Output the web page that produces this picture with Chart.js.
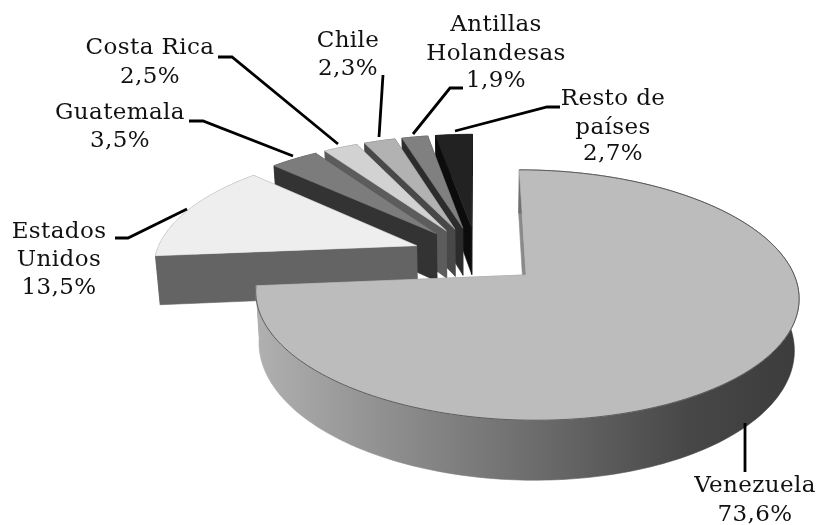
<!DOCTYPE html>
<html><head><meta charset="utf-8">
<script src="https://cdn.jsdelivr.net/npm/chart.js@4"></script>
<style>html,body{margin:0;padding:0;background:#fff}canvas{display:block}</style>
</head><body><canvas id="c" width="821" height="525"></canvas>
<script>
const categories = ['Venezuela','Estados Unidos','Guatemala','Costa Rica','Chile','Antillas Holandesas','Resto de países'];
const shares = [73.6,13.5,3.5,2.5,2.3,1.9,2.7];
const percentLabels = ['73,6%','13,5%','3,5%','2,5%','2,3%','1,9%','2,7%'];
const topColors = ['#bcbcbc','#eeeeee','#7c7c7c','#d2d2d2','#b2b2b2','#808080','#222222'];
const wallColors = ['#8a8a8a','#646464','#333333','#5c5c5c','#484848','#2c2c2c','#0c0c0c'];

const VIEW = {cx:477, cy:255, tilt:0.443, k:0.0006, R:261, depth:49, taper:0.0003};
const labelLayout = [
  {lines:['Venezuela',percentLabels[0]], x:755, y:[486,515], lead:[[745,423],[745,472]]},
  {lines:['Estados','Unidos',percentLabels[1]], x:59, y:[232,260,288], lead:[[187,209],[128,238],[115,238]]},
  {lines:['Guatemala',percentLabels[2]], x:120, y:[113,141], lead:[[293,156],[203,121],[189,121]]},
  {lines:['Costa Rica',percentLabels[3]], x:150, y:[48,77], lead:[[338,144],[232,57],[218,57]]},
  {lines:['Chile',percentLabels[4]], x:348, y:[41,69], lead:[[379,137],[383,75]]},
  {lines:['Antillas','Holandesas',percentLabels[5]], x:496, y:[25,54,81], lead:[[413,134],[450,88],[463,88]]},
  {lines:['Resto de','países',percentLabels[6]], x:613, y:[99,128,154], lead:[[455,131],[547,107],[560,107]]}
];

function proj(u,v,h){
  const s = 1/(1-VIEW.k*v);
  return [VIEW.cx+u*s*(1-VIEW.taper*h), VIEW.cy+VIEW.tilt*v*s+h*s];
}
function arcPts(a0,a1,h,ou,ov){
  const n = Math.max(6,Math.ceil(Math.abs(a1-a0)/0.02)), pts=[];
  for(let i=0;i<=n;i++){
    const a=a0+(a1-a0)*i/n;
    pts.push(proj(ou+Math.cos(a)*VIEW.R,ov+Math.sin(a)*VIEW.R,h));
  }
  return pts;
}
function fillPoly(ctx,pts,fill){
  ctx.beginPath();
  pts.forEach((p,i)=>i?ctx.lineTo(p[0],p[1]):ctx.moveTo(p[0],p[1]));
  ctx.closePath();
  ctx.fillStyle=fill; ctx.fill();
  ctx.strokeStyle=fill; ctx.lineWidth=0.6; ctx.stroke();
}
const pie3d = {
  id:'pie3d',
  beforeDatasetsDraw(chart){
    const ctx=chart.ctx, arcs=chart.getDatasetMeta(0).data;
    const order=[6,5,4,3,2,1,0];
    ctx.save();
    order.forEach(i=>{
      const el=arcs[i], scale=VIEW.R/el.outerRadius;
      const mid=(el.startAngle+el.endAngle)/2, e=el.options.offset*scale;
      const ou=Math.cos(mid)*e, ov=Math.sin(mid)*e;
      const a0=el.startAngle, a1=el.endAngle, D=VIEW.depth;
      const apexT=proj(ou,ov,0), apexB=proj(ou,ov,D);
      const top=arcPts(a0,a1,0,ou,ov), bot=arcPts(a0,a1,D,ou,ov);
      fillPoly(ctx,[apexT,top[0],bot[0],apexB],wallColors[i]);
      fillPoly(ctx,[apexT,top[top.length-1],bot[bot.length-1],apexB],wallColors[i]);
      let wall=wallColors[i];
      if(i===0){
        wall=ctx.createLinearGradient(257,0,797,0);
        wall.addColorStop(0,'#b0b0b0');
        wall.addColorStop(0.25,'#8e8e8e');
        wall.addColorStop(0.5,'#6e6e6e');
        wall.addColorStop(0.8,'#474747');
        wall.addColorStop(1,'#3c3c3c');
      }
      fillPoly(ctx,top.concat(bot.slice().reverse()),wall);
      fillPoly(ctx,[apexT].concat(top),el.options.backgroundColor);
      if(i===0){
        ctx.beginPath();
        top.forEach((p,j)=>j?ctx.lineTo(p[0],p[1]):ctx.moveTo(p[0],p[1]));
        ctx.strokeStyle='#444'; ctx.lineWidth=0.8; ctx.stroke();
      }
    });
    ctx.strokeStyle='#000'; ctx.lineWidth=2.8; ctx.lineJoin='miter';
    labelLayout.forEach(l=>{
      ctx.beginPath();
      l.lead.forEach((p,j)=>j?ctx.lineTo(p[0],p[1]):ctx.moveTo(p[0],p[1]));
      ctx.stroke();
    });
    ctx.fillStyle='#111'; ctx.textAlign='center'; ctx.textBaseline='middle';
    ctx.font='23px "DejaVu Serif"';
    ctx.letterSpacing='0.4px';
    labelLayout.forEach(l=>l.lines.forEach((t,j)=>ctx.fillText(t,l.x,l.y[j])));
    ctx.restore();
    return false;
  }
};
new Chart(document.getElementById('c'),{
  type:'pie',
  data:{labels:categories,datasets:[{data:shares,backgroundColor:topColors,borderWidth:0,offset:58}]},
  options:{responsive:false,animation:false,layout:{padding:0},
    plugins:{legend:{display:false},tooltip:{enabled:false}}},
  plugins:[pie3d]
});
</script></body></html>
